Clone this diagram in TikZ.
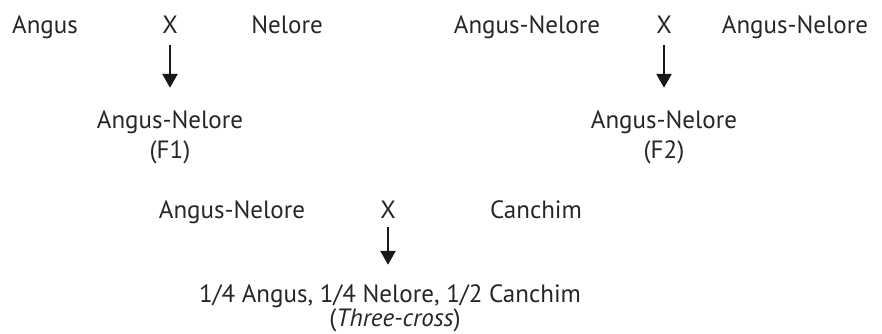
\documentclass[tikz,border=0pt]{standalone}
\usepackage{fontspec}
\setmainfont{PT Sans}
\usetikzlibrary{arrows.meta}

\tikzset{
  breed/.style={inner sep=0pt, anchor=base, text height=19pt, text depth=5pt,
    font=\fontsize{25}{29}\selectfont, text=black!85},
  cross arrow/.style={line width=2.6pt, black!90,
    -{Triangle[width=15pt,length=14pt]}}
}

\begin{document}
\begin{tikzpicture}[x=1pt,y=1pt]
            % Frame
            \useasboundingbox (0,0) rectangle (882,333);
            % First cross
            \node[breed] (angus) at (45,300) {Angus};
            \node[breed] (crossA) at (170,300) {X};
            \node[breed] (nelore) at (287,300) {Nelore};
            \node[breed] (fone) at (170,205) {Angus-Nelore};
            \node[breed] (foneLabel) at (170,175) {(F1)};
            \draw[cross arrow, shorten <=7pt, shorten >=21pt] (crossA) -- (crossA |- fone.north);
            % Second cross
            \node[breed] (parentA) at (527,300) {Angus-Nelore};
            \node[breed] (crossB) at (664,300) {X};
            \node[breed] (parentB) at (795,300) {Angus-Nelore};
            \node[breed] (ftwo) at (664,205) {Angus-Nelore};
            \node[breed] (ftwoLabel) at (664,175) {(F2)};
            \draw[cross arrow, shorten <=7pt, shorten >=21pt] (crossB) -- (crossB |- ftwo.north);
            % Three-cross
            \node[breed] (parentC) at (232,115) {Angus-Nelore};
            \node[breed] (crossC) at (388,115) {X};
            \node[breed] (canchim) at (536,115) {Canchim};
            \node[breed] (mix) at (390,31) {1/4 Angus, 1/4 Nelore, 1/2 Canchim};
            \node[breed] (mixLabel) at (395,7) {(\textit{Three-cross})};
            \draw[cross arrow, shorten <=4pt, shorten >=18pt] (crossC) -- (crossC |- mix.north);
\end{tikzpicture}
\end{document}
